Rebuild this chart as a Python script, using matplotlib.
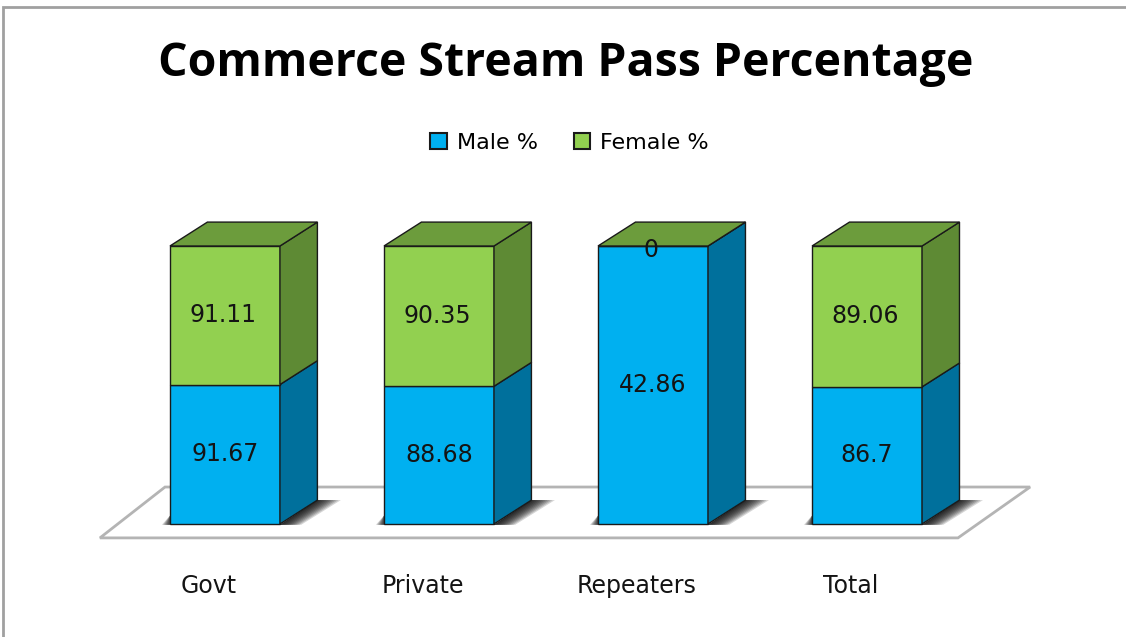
import matplotlib
matplotlib.use("Agg")
import matplotlib.pyplot as plt
from matplotlib.patches import Polygon, Rectangle
import numpy as np

categories = ["Govt", "Private", "Repeaters", "Total"]
male_pct = [91.67, 88.68, 42.86, 86.7]
female_pct = [91.11, 90.35, 0, 89.06]

# colours (front, side, top)
blue = ("#00B0F0", "#00709C", "#0090C8")
green = ("#92D050", "#5E8A34", "#6C9C3C")
edge = "#1a1a1a"

fig = plt.figure(figsize=(11.26, 6.37), dpi=100)
ax = fig.add_axes([0, 0, 1, 1])
ax.set_xlim(-1.051, 4.210)
ax.set_ylim(-40.65, 188.49)
ax.axis("off")

# outer frame
fig.patches.append(Rectangle((0.003, -0.05), 1.2, 1.039, transform=fig.transFigure,
                             fill=False, edgecolor="#a0a0a0", lw=2.0))

w = 0.514      # bar width (category units)
dx, dy = 0.175, 8.6   # 3d depth offset

# floor
floor = Polygon([(-0.584, -5.0), (3.425, -5.0), (3.762, 13.3), (-0.28, 13.3)],
                closed=True, facecolor="white", edgecolor="#b4b4b4", lw=2.0, zorder=1)
ax.add_patch(floor)


def box(x0, y0, y1, cols, top=False, z=3):
    x1 = x0 + w
    ax.add_patch(Polygon([(x0, y0), (x1, y0), (x1, y1), (x0, y1)], facecolor=cols[0],
                         edgecolor=edge, lw=1.0, zorder=z))
    ax.add_patch(Polygon([(x1, y0), (x1 + dx, y0 + dy), (x1 + dx, y1 + dy), (x1, y1)],
                         facecolor=cols[1], edgecolor=edge, lw=1.0, zorder=z))
    if top:
        ax.add_patch(Polygon([(x0, y1), (x1, y1), (x1 + dx, y1 + dy), (x0 + dx, y1 + dy)],
                             facecolor=cols[2], edgecolor=edge, lw=1.0, zorder=z + 0.1))


for i, cat in enumerate(categories):
    tot = male_pct[i] + female_pct[i]
    m = male_pct[i] / tot * 100
    f = female_pct[i] / tot * 100
    x0 = i - w / 2
    x1 = x0 + w
    # soft shadow on the floor (stacked translucent layers)
    for s in np.linspace(0.11, 0.01, 10):
        ax.add_patch(Polygon([(x1, -0.3), (x1 + dx, dy), (x1 + dx + s, dy), (x1 + s * 0.9, -0.3)],
                             facecolor="black", edgecolor="none", alpha=0.16, zorder=2))
        ax.add_patch(Polygon([(x0, -0.3), (x0, 3.0), (x0 - s * 0.35, -0.3)],
                             facecolor="black", edgecolor="none", alpha=0.12, zorder=2))
    box(x0, 0, m, blue)
    box(x0, m, 100, green, top=True)
    ax.text(i, m / 2, f"{male_pct[i]:g}", ha="center", va="center",
            fontsize=17, color="#141414", zorder=6)
    lbl_y = m + f / 2 if f > 0 else 98.5
    ax.text(i - 0.01, lbl_y, f"{female_pct[i]:g}", ha="center", va="center",
            fontsize=17, color="#141414", zorder=6)
    ax.text(i - 0.075, -22.3, cat, ha="center", va="center", fontsize=17,
            color="#141414")

fig.text(0.502, 0.9, "Commerce Stream Pass Percentage", ha="center", va="center",
         fontsize=33.4, fontweight="bold", family="Open Sans", color="black")

handles = [Rectangle((0, 0), 1, 1, facecolor=blue[0], edgecolor=edge, lw=1.5),
           Rectangle((0, 0), 1, 1, facecolor=green[0], edgecolor=edge, lw=1.5)]
fig.legend(handles, ["Male %", "Female %"], loc="center", bbox_to_anchor=(0.506, 0.776),
           ncol=2, frameon=False, fontsize=16, handlelength=0.75, handleheight=0.75,
           handletextpad=0.45, columnspacing=1.6)

fig.savefig("out.png", dpi=100)
